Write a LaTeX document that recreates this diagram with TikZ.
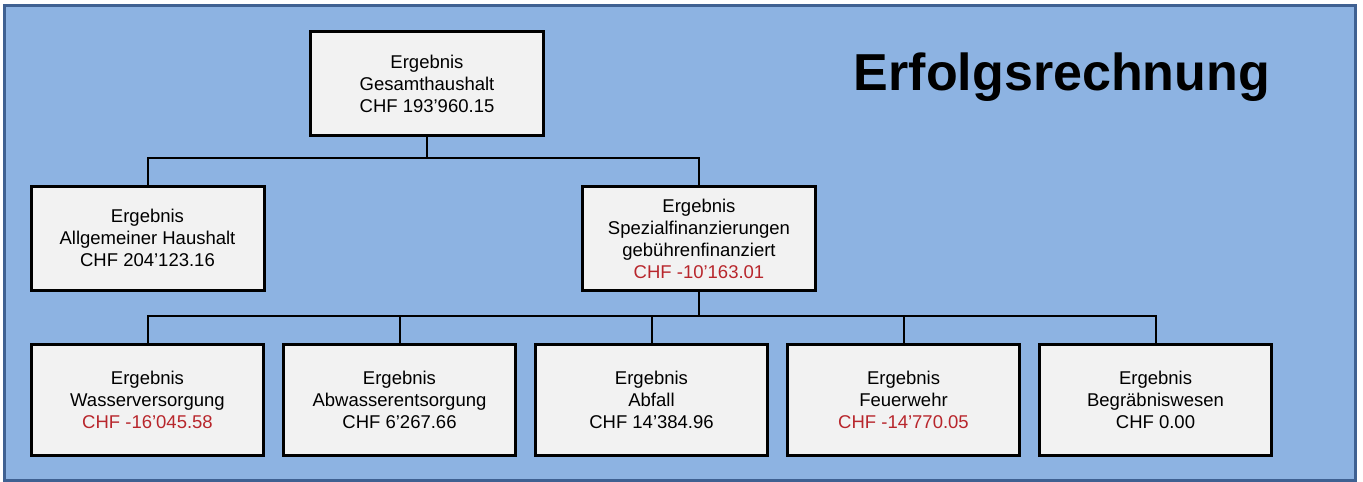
\documentclass[tikz,border=0pt]{standalone}
\usepackage{fontspec}
\setmainfont{Liberation Sans}
\usetikzlibrary{chains,positioning}

\definecolor{bgblue}{HTML}{8DB3E2}
\definecolor{frameblue}{HTML}{3F6192}
\definecolor{boxgrey}{HTML}{F2F2F2}
\definecolor{minusred}{HTML}{B8262C}

\newcommand{\redval}[1]{\textcolor{minusred}{#1}}

\tikzset{
  ergbox/.style={draw=black,line width=3pt,fill=boxgrey,outer sep=0pt,
    minimum width=233pt,minimum height=104pt,align=center,
    font=\fontsize{18.5}{22}\selectfont},
  tieline/.style={draw=black,line width=2pt},
}

\begin{document}
\begin{tikzpicture}[x=1pt,y=-1pt]

\useasboundingbox (0,0) rectangle (1363,482);
\draw[fill=bgblue,draw=frameblue,line width=3pt] (4.5,5.5) rectangle (1355.5,480.5);

\node[font=\fontsize{52}{54}\selectfont\bfseries] (titel) at (1062,77) {Erfolgsrechnung};

\node[ergbox] (gesamt) at (427,83.5) {Ergebnis\\Gesamthaushalt\\CHF 193'960.15};
\node[ergbox] (allg) at (147.5,238) {Ergebnis\\Allgemeiner Haushalt\\CHF 204'123.16};
\node[ergbox] (spez) at (699,238.5) {Ergebnis\\Spezialfinanzierungen\\geb\"uhrenfinanziert\\\redval{CHF -10'163.01}};

\begin{scope}[shift={(147.5,399.5)},start chain=going right,node distance=20pt]
\def\bereiche{1/{Wasserversorgung}/{\redval{CHF -16'045.58}},2/{Abwasserentsorgung}/{CHF 6'267.66},3/{Abfall}/{CHF 14'384.96},4/{Feuerwehr}/{\redval{CHF -14'770.05}},5/{Begr\"abniswesen}/{CHF 0.00}}
\foreach \i / \element / \betrag in \bereiche
  \node [on chain,ergbox,minimum width=232pt,minimum height=111pt] (w\i) {Ergebnis\\\element\\\betrag};
\end{scope}

\coordinate (split1) at (427,158);
\coordinate (split2) at (699,316);
\draw[tieline] (gesamt.south) -- (split1) -| (allg.north);
\draw[tieline] (split1) -| (spez.north);
\draw[tieline] (spez.south) -- (split2);
\foreach \i in {1,...,5}
  \draw[tieline] (split2) -| (w\i.north);

\end{tikzpicture}
\end{document}
